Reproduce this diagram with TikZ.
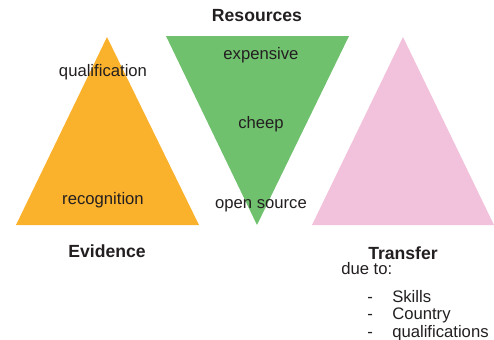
\documentclass[tikz,border=0pt]{standalone}
\usepackage{fontspec}
\setmainfont{Liberation Sans}
\usepackage{xcolor}
\usetikzlibrary{positioning}

\definecolor{evid}{RGB}{250,177,44}
\definecolor{reso}{RGB}{112,193,110}
\definecolor{trans}{RGB}{242,193,219}
\definecolor{ink}{RGB}{35,31,32}

\begin{document}
\begin{tikzpicture}[
      x=0.75pt, y=-0.75pt,
      lbl/.style={text=ink, inner sep=0pt, font=\fontsize{12.5}{14}\selectfont},
      head/.style={lbl, font=\fontsize{13.2}{15}\selectfont\bfseries},
      item/.style={lbl, anchor=base west}
    ]
    \useasboundingbox (0,0) rectangle (494,340);
    % Triangles
    \fill[evid] (107,37) -- (199,225) -- (16,225) -- cycle;
    \fill[reso] (166,36) -- (349,36) -- (257,225) -- cycle;
    \fill[trans] (403,37) -- (494,225) -- (312,225) -- cycle;

    % Labels inside
    \node[lbl] (qual) at (103,72) {qualification};
    \node[lbl] (recog) at (103,200) {recognition};
    \node[lbl] (expn) at (261,55) {expensive};
    \node[lbl] (cheap) at (261,124) {cheep};
    \node[lbl] (opsrc) at (261,206) {open source};

    % Headings
    \node[head] (res) at (257,16) {Resources};
    \node[head] (evi) at (107,251) {Evidence};
    \node[head] (tra) at (403,253) {Transfer};

    % Reasons for transfer
    \node[item] (due) at (341,274) {due to:};
    \foreach \txt [count=\i] in {Skills, Country, qualifications} {
      \node[item] (dash\i) at (367,302+17.5*\i-17.5) {-};
      \node[item] (rsn\i) at (392,302+17.5*\i-17.5) {\txt};
    }
\end{tikzpicture}
\end{document}
